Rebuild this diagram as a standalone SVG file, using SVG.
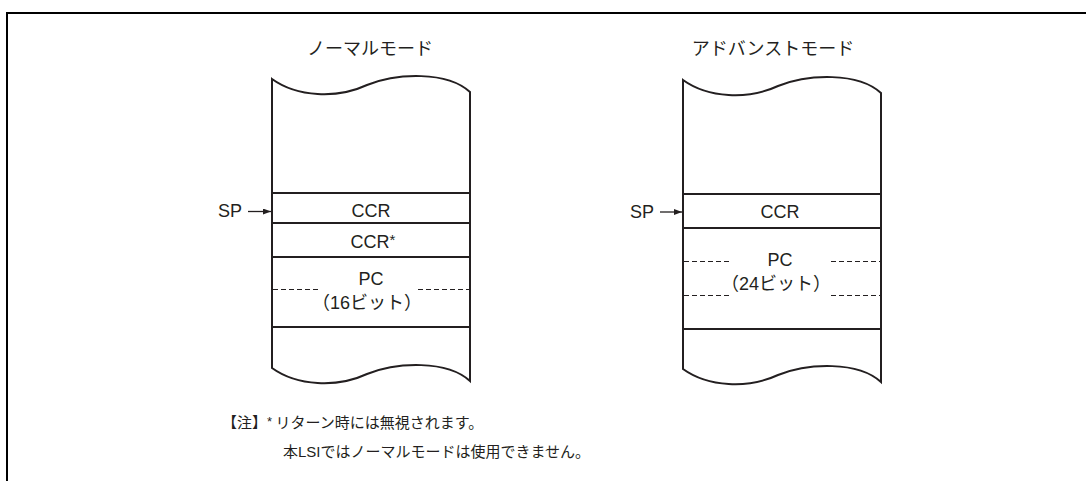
<svg xmlns="http://www.w3.org/2000/svg" width="1086" height="481" viewBox="0 0 1086 481">
<style>
.frame{fill:none;stroke:#000;stroke-width:2}
.col{fill:#fff;stroke:#231f20;stroke-width:2;stroke-linejoin:miter}
.row{stroke:#231f20;stroke-width:2;fill:none}
.dash{stroke:#231f20;stroke-width:1.1;stroke-dasharray:5 3;fill:none}
.lat{font-family:"Liberation Sans","Noto Sans CJK JP",sans-serif;font-size:18px;fill:#231f20}
.jp{font-family:"Noto Sans CJK JP",sans-serif;font-size:18px;fill:#231f20}
.note{font-family:"Noto Sans CJK JP",sans-serif;font-size:15px;fill:#231f20}
.mid{text-anchor:middle}
.arr{stroke:#231f20;stroke-width:1.3;fill:none}
</style>
<defs>
<marker id="ah" viewBox="0 0 8 6" refX="8" refY="3" markerWidth="8" markerHeight="6" markerUnits="userSpaceOnUse" orient="auto">
<path d="M0,0 L8,3 L0,6 Z" fill="#231f20"/>
</marker>
</defs>
<g id="frame">
<path class="frame" d="M7,481 L7,13 L1086,13"/>
</g>
<g id="normal-mode">
<text class="jp mid" x="370" y="55">ノーマルモード</text>
<path class="col" d="M272,79 C297,97 337,99 367,85 C397,73 447,71 470,92 L470,381 C447,360 397,362 367,374 C337,388 297,386 272,368 Z"/>
<line class="row" x1="272" y1="193" x2="470" y2="193"/>
<line class="row" x1="272" y1="223" x2="470" y2="223"/>
<line class="row" x1="272" y1="257" x2="470" y2="257"/>
<line class="row" x1="272" y1="327" x2="470" y2="327"/>
<line class="dash" x1="273" y1="289.5" x2="320" y2="289.5"/>
<line class="dash" x1="418" y1="289.5" x2="469" y2="289.5"/>
<text class="lat mid" x="371" y="217">CCR</text>
<text class="lat mid" x="373" y="248">CCR<tspan font-size="15" dy="-3">*</tspan></text>
<text class="lat mid" x="371" y="285">PC</text>
<text class="jp mid" x="367" y="309" font-size="16">（<tspan font-family="Liberation Sans">16</tspan>ビット）</text>
</g>
<g id="advanced-mode">
<text class="jp mid" x="773" y="55">アドバンストモード</text>
<path class="col" d="M683,80 C708,98 748,100 778,86 C808,74 858,72 881,93 L881,382 C858,361 808,363 778,375 C748,389 708,387 683,369 Z"/>
<line class="row" x1="683" y1="194" x2="881" y2="194"/>
<line class="row" x1="683" y1="228" x2="881" y2="228"/>
<line class="row" x1="683" y1="329" x2="881" y2="329"/>
<line class="dash" x1="684" y1="261.5" x2="732" y2="261.5"/>
<line class="dash" x1="831" y1="261.5" x2="880" y2="261.5"/>
<line class="dash" x1="684" y1="295.5" x2="732" y2="295.5"/>
<line class="dash" x1="831" y1="295.5" x2="880" y2="295.5"/>
<text class="lat mid" x="780" y="218">CCR</text>
<text class="lat mid" x="780" y="266">PC</text>
<text class="jp mid" x="776" y="290" font-size="16">（<tspan font-family="Liberation Sans">24</tspan>ビット）</text>
</g>
<g id="connectors">
<text class="lat" x="218" y="217">SP</text>
<line class="arr" x1="248" y1="211.5" x2="271" y2="211.5" marker-end="url(#ah)"/>
<text class="lat" x="630" y="218">SP</text>
<line class="arr" x1="660" y1="212" x2="682" y2="212" marker-end="url(#ah)"/>
</g>
<g id="note">
<text class="note" x="222" y="428">【注】<tspan font-family="Liberation Sans" font-size="13" dy="-2">*</tspan><tspan dy="2"> リターン時には無視されます。</tspan></text>
<text class="note" x="283" y="457">本<tspan font-family="Liberation Sans">LSI</tspan>ではノーマルモードは使用できません。</text>
</g>
</svg>
